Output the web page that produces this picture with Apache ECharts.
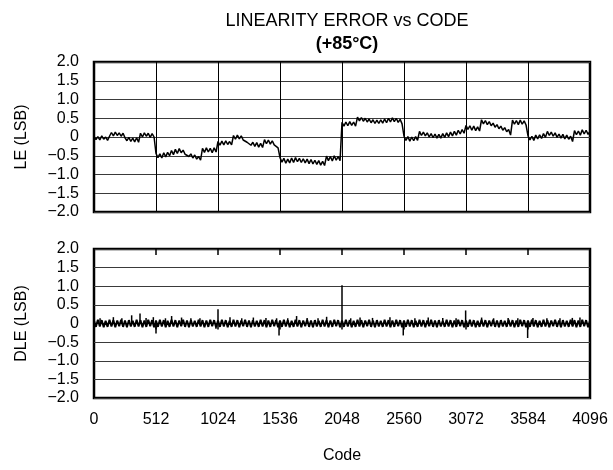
<!DOCTYPE html>
<html>
<head>
<meta charset="utf-8">
<script src="https://cdn.jsdelivr.net/npm/echarts@6/dist/echarts.min.js"></script>
<style>html,body{margin:0;padding:0;background:#fff}#c{width:613px;height:470px}</style>
</head>
<body>
<div id="c"></div>
<script>
// ---- data ----
const xTicks = [0, 512, 1024, 1536, 2048, 2560, 3072, 3584, 4096];
const yTicks = [-2, -1.5, -1, -0.5, 0, 0.5, 1, 1.5, 2];

// LE sampled every 16 codes, starting at code 0 (257 samples, 0..4096)
const leStartCode = 0;
const leCodeStep = 16;
const leValues = [
  // 0 - 496
  0.02, -0.07, 0.01, -0.08, 0.03, -0.06, 0.0, -0.09, 0.02, 0.12, 0.03, 0.13, 0.04, 0.11, 0.02, 0.1,
  -0.02, -0.1, -0.01, -0.12, -0.03, -0.13, -0.02, -0.14, 0.1, 0.0, 0.11, 0.02, 0.1, -0.01, 0.09, 0.0,
  // 512 - 1008
  -0.44, -0.55, -0.45, -0.56, -0.42, -0.53, -0.41, -0.5, -0.36, -0.47, -0.33, -0.44, -0.31, -0.42, -0.35, -0.46,
  -0.42, -0.52, -0.45, -0.56, -0.48, -0.59, -0.52, -0.62, -0.3, -0.41, -0.29, -0.4, -0.3, -0.42, -0.29, -0.4,
  // 1024 - 1520
  -0.12, -0.22, -0.11, -0.21, -0.1, -0.2, -0.12, -0.21, 0.04, -0.06, 0.05, -0.05, 0.03, -0.08, -0.05, -0.14,
  -0.11, -0.22, -0.14, -0.25, -0.15, -0.27, -0.17, -0.28, -0.07, -0.18, -0.08, -0.19, -0.1, -0.21, -0.18, -0.29,
  // 1536 - 2032
  -0.55, -0.67, -0.57, -0.7, -0.59, -0.69, -0.56, -0.68, -0.55, -0.66, -0.57, -0.68, -0.58, -0.69, -0.59, -0.71,
  -0.6, -0.72, -0.62, -0.73, -0.63, -0.75, -0.65, -0.76, -0.51, -0.63, -0.52, -0.64, -0.5, -0.62, -0.52, -0.63,
  // 2048 - 2544
  0.39, 0.29, 0.4, 0.3, 0.41, 0.31, 0.4, 0.29, 0.53, 0.43, 0.52, 0.42, 0.5, 0.4, 0.48, 0.38,
  0.46, 0.36, 0.45, 0.36, 0.46, 0.37, 0.48, 0.38, 0.5, 0.4, 0.51, 0.41, 0.5, 0.39, 0.47, 0.35,
  // 2560 - 3056
  0.02, -0.09, 0.01, -0.11, 0.0, -0.1, 0.01, -0.09, 0.15, 0.04, 0.13, 0.03, 0.11, 0.0, 0.09, -0.02,
  0.08, -0.03, 0.07, -0.03, 0.09, -0.01, 0.11, 0.01, 0.13, 0.03, 0.15, 0.05, 0.18, 0.08, 0.2, 0.1,
  // 3072 - 3568
  0.31, 0.2, 0.3, 0.18, 0.29, 0.17, 0.27, 0.16, 0.46, 0.35, 0.44, 0.33, 0.41, 0.3, 0.37, 0.26,
  0.33, 0.22, 0.29, 0.18, 0.25, 0.14, 0.2, 0.05, 0.45, 0.34, 0.44, 0.33, 0.45, 0.34, 0.43, 0.32,
  // 3584 - 4096
  0.03, -0.08, 0.02, -0.09, 0.05, -0.05, 0.06, -0.04, 0.09, -0.01, 0.15, 0.04, 0.13, 0.02, 0.11, -0.01,
  0.08, -0.03, 0.07, -0.05, 0.05, -0.06, 0.02, -0.12, 0.17, 0.06, 0.16, 0.05, 0.19, 0.08, 0.18, 0.07,
  0.15
];

// DLE sampled every 16 codes (257 samples, 0..4096)
const dleStartCode = 0;
const dleCodeStep = 16;
const dleValues = [
  0.08, -0.09, 0.1, -0.08, 0.09, -0.1, 0.07, -0.09, 0.1, -0.08, 0.09, -0.1, 0.08, -0.07, 0.1, -0.09,
  0.08, -0.1, 0.09, -0.08, 0.07, -0.09, 0.1, -0.08, 0.09, -0.1, 0.08, -0.09, 0.1, -0.07, 0.09, -0.1,
  0.08, -0.09, 0.1, -0.08, 0.09, -0.1, 0.07, -0.09, 0.1, -0.08, 0.09, -0.1, 0.08, -0.07, 0.1, -0.09,
  0.08, -0.1, 0.09, -0.08, 0.07, -0.09, 0.1, -0.08, 0.09, -0.1, 0.08, -0.09, 0.1, -0.07, 0.09, -0.1,
  0.08, -0.09, 0.1, -0.08, 0.09, -0.1, 0.07, -0.09, 0.1, -0.08, 0.09, -0.1, 0.08, -0.07, 0.1, -0.09,
  0.08, -0.1, 0.09, -0.08, 0.07, -0.09, 0.1, -0.08, 0.09, -0.1, 0.08, -0.09, 0.1, -0.07, 0.09, -0.1,
  0.08, -0.09, 0.1, -0.08, 0.09, -0.1, 0.07, -0.09, 0.1, -0.08, 0.09, -0.1, 0.08, -0.07, 0.1, -0.09,
  0.08, -0.1, 0.09, -0.08, 0.07, -0.09, 0.1, -0.08, 0.09, -0.1, 0.08, -0.09, 0.1, -0.07, 0.09, -0.1,
  0.08, -0.09, 0.1, -0.08, 0.09, -0.1, 0.07, -0.09, 0.1, -0.08, 0.09, -0.1, 0.08, -0.07, 0.1, -0.09,
  0.08, -0.1, 0.09, -0.08, 0.07, -0.09, 0.1, -0.08, 0.09, -0.1, 0.08, -0.09, 0.1, -0.07, 0.09, -0.1,
  0.08, -0.09, 0.1, -0.08, 0.09, -0.1, 0.07, -0.09, 0.1, -0.08, 0.09, -0.1, 0.08, -0.07, 0.1, -0.09,
  0.08, -0.1, 0.09, -0.08, 0.07, -0.09, 0.1, -0.08, 0.09, -0.1, 0.08, -0.09, 0.1, -0.07, 0.09, -0.1,
  0.08, -0.09, 0.1, -0.08, 0.09, -0.1, 0.07, -0.09, 0.1, -0.08, 0.09, -0.1, 0.08, -0.07, 0.1, -0.09,
  0.08, -0.1, 0.09, -0.08, 0.07, -0.09, 0.1, -0.08, 0.09, -0.1, 0.08, -0.09, 0.1, -0.07, 0.09, -0.1,
  0.08, -0.09, 0.1, -0.08, 0.09, -0.1, 0.07, -0.09, 0.1, -0.08, 0.09, -0.1, 0.08, -0.07, 0.1, -0.09,
  0.08, -0.1, 0.09, -0.08, 0.07, -0.09, 0.1, -0.08, 0.09, -0.1, 0.08, -0.09, 0.1, -0.07, 0.09, -0.1,
  0.08
];

// isolated DLE spikes
const spikeCodes = [50, 160, 230, 311, 380, 430, 490, 512, 590, 641, 723, 800, 875, 1007, 1024, 1123, 1220, 1316, 1420, 1508, 1528, 1600, 1673, 1760, 1850, 1921, 2048, 2120, 2197, 2300, 2444, 2554, 2650, 2760, 2880, 2990, 3069, 3201, 3300, 3420, 3500, 3581, 3625, 3740, 3848, 3950, 4013];
const spikeValues = [0.14, 0.17, 0.14, 0.22, 0.27, 0.15, 0.17, -0.27, 0.14, 0.2, 0.16, 0.14, 0.14, -0.14, 0.38, 0.17, 0.14, 0.16, 0.15, 0.14, -0.32, 0.14, 0.2, 0.15, 0.14, 0.18, 1.03, 0.14, 0.16, 0.15, 0.17, -0.32, 0.14, 0.16, 0.15, 0.14, 0.35, 0.16, 0.14, 0.15, 0.14, -0.39, 0.15, 0.14, 0.14, 0.15, 0.16];

// ---- chart ----
const FONT = '"Liberation Sans", Arial, Helvetica, sans-serif';
const fmtY = v => v === 0 ? '0' : (v < 0 ? '\u2212' + Math.abs(v).toFixed(1) : v.toFixed(1));
const seriesPairs = (start, step, ys) => ys.map((y, i) => [start + i * step, y]);
const toPairs = (xs, ys) => xs.map((x, i) => [x, ys[i]]);

const chart = echarts.init(document.getElementById('c'), null, { renderer: 'canvas' });

const yAxisBase = (gi, name) => ({
  type: 'value', gridIndex: gi, min: yTicks[0], max: yTicks[yTicks.length - 1], interval: 0.5,
  name: name, nameLocation: 'middle', nameRotate: 90, nameGap: 64,
  nameTextStyle: { fontSize: 16, color: '#000', fontFamily: FONT },
  axisLine: { show: false }, axisTick: { show: false },
  axisLabel: { fontSize: 16, color: '#000', fontFamily: FONT, margin: 15, formatter: fmtY },
  splitLine: { show: true, lineStyle: { color: '#3a3a3a', width: 1 } }
});

chart.setOption({
  animation: false,
  backgroundColor: '#fff',
  textStyle: { fontFamily: FONT },
  title: [
    { text: 'LINEARITY ERROR vs CODE', left: 342, top: 7, textAlign: 'center',
      textStyle: { fontSize: 18, fontWeight: 'normal', color: '#000', fontFamily: FONT } },
    { text: '(+85\u00B0C)', left: 342, top: 30, textAlign: 'center',
      textStyle: { fontSize: 18, fontWeight: 'bold', color: '#000', fontFamily: FONT } }
  ],
  grid: [
    { left: 94, top: 62, width: 496, height: 150, show: true, borderColor: '#000', borderWidth: 2.5, backgroundColor: 'transparent' },
    { left: 94, top: 249, width: 496, height: 149, show: true, borderColor: '#000', borderWidth: 2.5, backgroundColor: 'transparent' }
  ],
  xAxis: [
    { type: 'value', gridIndex: 0, min: 0, max: 4096, interval: 512,
      axisLine: { show: false }, axisTick: { show: false }, axisLabel: { show: false },
      splitLine: { show: true, lineStyle: { color: '#000', width: 1 } } },
    { type: 'value', gridIndex: 1, min: 0, max: 4096, interval: 512, position: 'bottom',
      name: 'Code', nameLocation: 'middle', nameGap: 50,
      nameTextStyle: { fontSize: 16, color: '#000', fontFamily: FONT },
      axisLine: { show: false },
      axisTick: { show: true, inside: false, length: 6, lineStyle: { color: '#000', width: 1.5 } },
      axisLabel: { fontSize: 16, color: '#000', fontFamily: FONT, margin: 14,
        formatter: v => xTicks.indexOf(v) >= 0 ? String(v) : '' },
      splitLine: { show: false } },
    { type: 'value', gridIndex: 1, min: 0, max: 4096, interval: 512, position: 'top',
      axisLine: { show: false },
      axisTick: { show: true, inside: true, length: 6, lineStyle: { color: '#000', width: 1.5 } },
      axisLabel: { show: false }, splitLine: { show: false } }
  ],
  yAxis: [ yAxisBase(0, 'LE (LSB)'), yAxisBase(1, 'DLE (LSB)') ],
  series: [
    { type: 'line', xAxisIndex: 0, yAxisIndex: 0, data: seriesPairs(leStartCode, leCodeStep, leValues),
      showSymbol: false, lineStyle: { color: '#000', width: 1.5 }, z: 5 },
    { type: 'line', xAxisIndex: 1, yAxisIndex: 1, data: seriesPairs(dleStartCode, dleCodeStep, dleValues),
      showSymbol: false, lineStyle: { color: '#000', width: 1.9 }, z: 5 },
    { type: 'bar', xAxisIndex: 1, yAxisIndex: 1, data: toPairs(spikeCodes, spikeValues),
      barWidth: 1.5, itemStyle: { color: '#000' }, z: 6 }
  ]
});
</script>
</body>
</html>
